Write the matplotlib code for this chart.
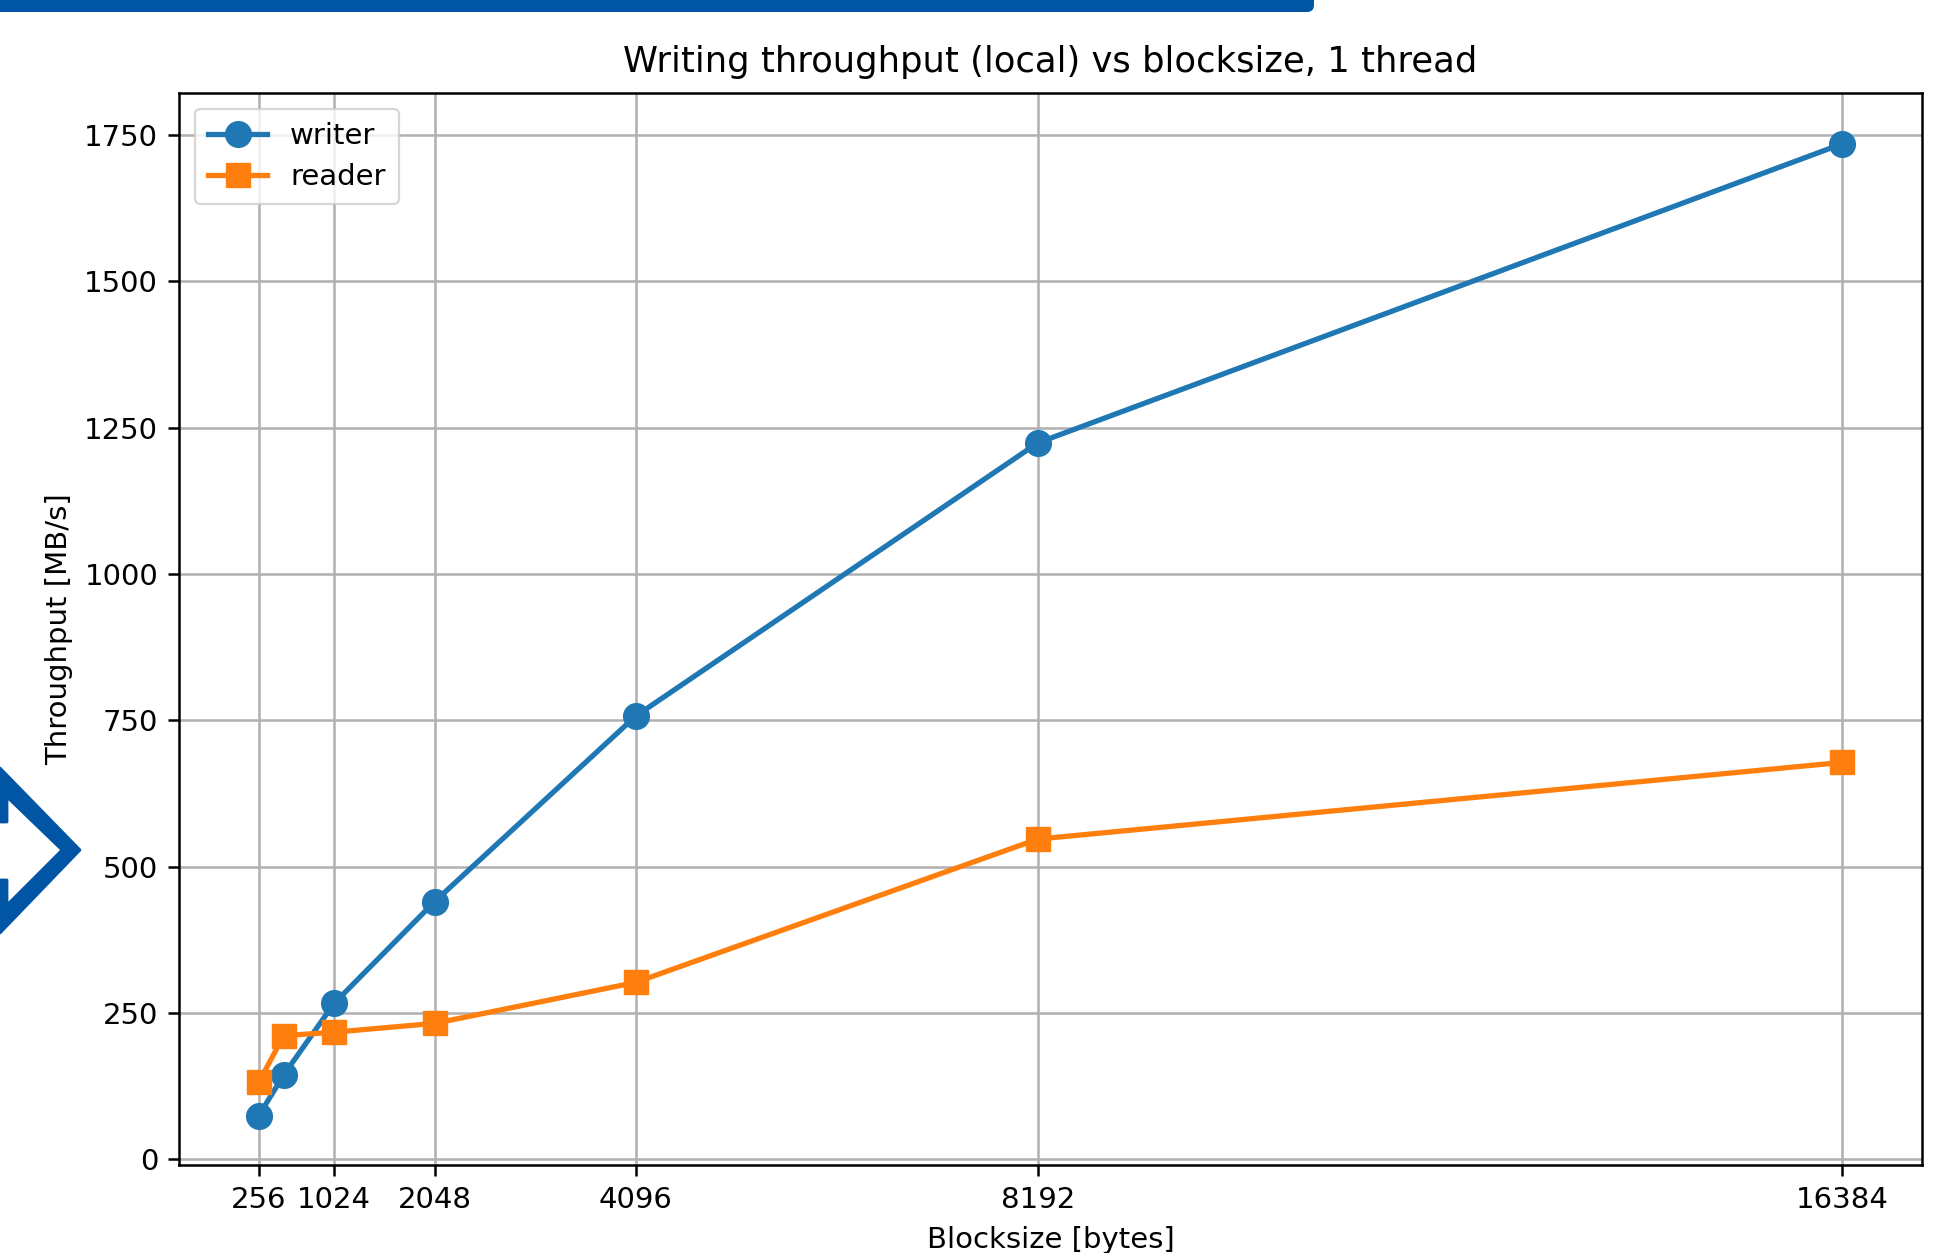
import matplotlib
matplotlib.use("Agg")
import matplotlib.pyplot as plt
from matplotlib.patches import Polygon, FancyBboxPatch

# ---- data ----
blocksizes = [256, 512, 1024, 2048, 4096, 8192, 16384]
writer = [74, 144, 266, 440, 757, 1224, 1735]
reader = [131, 211, 217, 232, 302, 547, 678]
xticks = [256, 1024, 2048, 4096, 8192, 16384]
yticks = [0, 250, 500, 750, 1000, 1250, 1500, 1750]

title = "Writing throughput (local) vs blocksize, 1 thread"
xlabel = "Blocksize [bytes]"
ylabel = "Throughput [MB/s]"

W, H = 1940, 1253
fig = plt.figure(figsize=(W / 100, H / 100), dpi=100)
fig.patch.set_facecolor("white")

left, right = 179 / W, 1922 / W
bottom, top = 1 - 1165 / H, 1 - 93 / H
ax = fig.add_axes([left, bottom, right - left, top - bottom])

fs = 21
ax.plot(blocksizes, writer, "-o", color="#1f77b4", lw=3.8, ms=18.5, label="writer", zorder=3)
ax.plot(blocksizes, reader, "-s", color="#ff7f0e", lw=3.8, ms=17, label="reader", zorder=3)

ax.set_xticks(xticks)
ax.set_xticklabels([str(t) for t in xticks])
ax.set_yticks(yticks)
ax.set_xlim(-555, 17199)
ax.set_ylim(-10, 1822)
ax.grid(True, color="#b0b0b0", lw=1.8)
ax.set_axisbelow(True)
ax.tick_params(labelsize=fs, length=8, width=1.8, pad=7)
for s in ax.spines.values():
    s.set_linewidth(1.8)

ax.set_title(title, fontsize=25.5, pad=15)
ax.set_xlabel(xlabel, fontsize=fs, labelpad=9)
ax.set_ylabel(ylabel, fontsize=fs, labelpad=8)

leg = ax.legend(loc="upper left", fontsize=fs, handlelength=2.0, borderpad=0.45,
                labelspacing=0.45, framealpha=0.8, edgecolor="#cccccc",
                bbox_to_anchor=(0.001, 0.999))
leg.get_frame().set_linewidth(1.6)

# ---- decorative overlay (slide graphics) ----
ov = fig.add_axes([0, 0, 1, 1], zorder=-1)
ov.set_xlim(0, W)
ov.set_ylim(H, 0)
ov.axis("off")
blue = "#0055A4"
ov.add_patch(FancyBboxPatch((-30, -30), 1344, 42, boxstyle="round,pad=0,rounding_size=7",
                            facecolor=blue, edgecolor="none"))
chev = [(0, 768), (80, 850), (0, 933), (0, 880), (7, 880), (7, 905), (62, 850),
        (7, 797), (7, 822), (0, 822)]
ov.add_patch(Polygon(chev, closed=True, facecolor=blue, edgecolor=blue,
                     lw=2, joinstyle="round"))

fig.savefig("out.png", dpi=100)
